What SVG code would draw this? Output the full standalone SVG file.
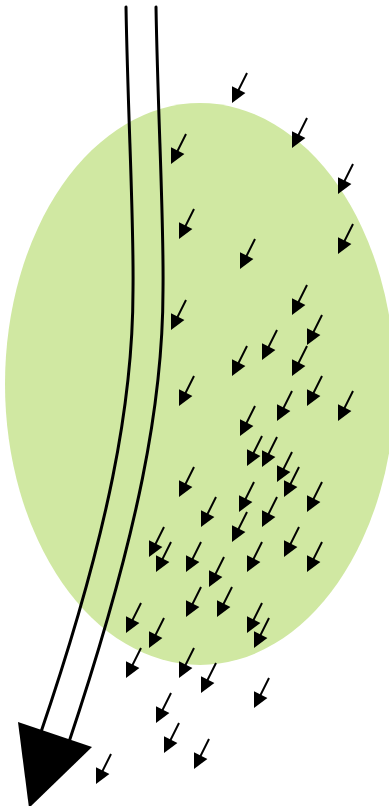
<svg xmlns="http://www.w3.org/2000/svg" xmlns:xlink="http://www.w3.org/1999/xlink" width="389" height="806" viewBox="0 0 389 806">
<style>
.shaft{fill:none;stroke:#000;stroke-width:3;stroke-linecap:round}
.sl{stroke:#000;stroke-width:2}
</style>
<defs>
<g id="sa"><line class="sl" x1="15" y1="-30" x2="5" y2="-10"/><path d="M0,0 L0,-16.8 L13.4,-10.1 Z" fill="#000"/></g>
</defs>
<rect width="389" height="806" fill="#fff"/>
<g id="region"><ellipse cx="200" cy="384" rx="195" ry="281" fill="#d0e8a2"/></g>
<g id="connectors">
<g id="big-arrow">
<path class="shaft" d="M126,7 C128,120 134,220 133,290 C133,400 110,530 40,735"/>
<path class="shaft" d="M156,7 C158,120 164,220 163,290 C163,400 140,530 68,745"/>
<path d="M18,722 L92,747 L29,808 Z" fill="#000"/>
</g>
<g id="small-arrows">
<use xlink:href="#sa" x="232" y="103"/>
<use xlink:href="#sa" x="292" y="148"/>
<use xlink:href="#sa" x="171" y="164"/>
<use xlink:href="#sa" x="338" y="194"/>
<use xlink:href="#sa" x="179" y="239"/>
<use xlink:href="#sa" x="338" y="254"/>
<use xlink:href="#sa" x="240" y="269"/>
<use xlink:href="#sa" x="292" y="315"/>
<use xlink:href="#sa" x="171" y="330"/>
<use xlink:href="#sa" x="307" y="345"/>
<use xlink:href="#sa" x="262" y="360"/>
<use xlink:href="#sa" x="232" y="376"/>
<use xlink:href="#sa" x="292" y="376"/>
<use xlink:href="#sa" x="179" y="406"/>
<use xlink:href="#sa" x="307" y="406"/>
<use xlink:href="#sa" x="277" y="421"/>
<use xlink:href="#sa" x="338" y="421"/>
<use xlink:href="#sa" x="240" y="436"/>
<use xlink:href="#sa" x="247" y="466"/>
<use xlink:href="#sa" x="262" y="467"/>
<use xlink:href="#sa" x="277" y="482"/>
<use xlink:href="#sa" x="284" y="497"/>
<use xlink:href="#sa" x="179" y="497"/>
<use xlink:href="#sa" x="239" y="512"/>
<use xlink:href="#sa" x="307" y="512"/>
<use xlink:href="#sa" x="201" y="527"/>
<use xlink:href="#sa" x="262" y="527"/>
<use xlink:href="#sa" x="232" y="542"/>
<use xlink:href="#sa" x="149" y="557"/>
<use xlink:href="#sa" x="284" y="557"/>
<use xlink:href="#sa" x="156" y="572"/>
<use xlink:href="#sa" x="186" y="572"/>
<use xlink:href="#sa" x="247" y="572"/>
<use xlink:href="#sa" x="307" y="572"/>
<use xlink:href="#sa" x="209" y="587"/>
<use xlink:href="#sa" x="186" y="617"/>
<use xlink:href="#sa" x="217" y="617"/>
<use xlink:href="#sa" x="126" y="633"/>
<use xlink:href="#sa" x="247" y="633"/>
<use xlink:href="#sa" x="149" y="648"/>
<use xlink:href="#sa" x="254" y="648"/>
<use xlink:href="#sa" x="126" y="678"/>
<use xlink:href="#sa" x="179" y="678"/>
<use xlink:href="#sa" x="201" y="693"/>
<use xlink:href="#sa" x="254" y="708"/>
<use xlink:href="#sa" x="156" y="723"/>
<use xlink:href="#sa" x="164" y="753"/>
<use xlink:href="#sa" x="194" y="769"/>
<use xlink:href="#sa" x="96" y="784"/>
</g>
</g>
</svg>
